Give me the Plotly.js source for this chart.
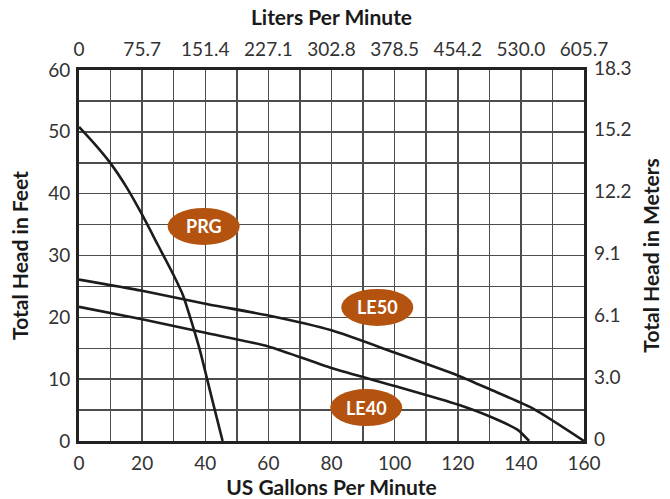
<!DOCTYPE html>
<html>
<head>
<meta charset="utf-8">
<script src="https://cdn.plot.ly/plotly-3.0.1.min.js"></script>
<style>html,body{margin:0;padding:0;background:#fff;}#chart{width:670px;height:499px;}</style>
</head>
<body>
<div id="chart"></div>
<script>
// US gallons per minute vs total head (feet)
const prgX  = [0, 5, 10, 15, 20, 25, 30, 33, 36, 38.3, 42, 45.5];
const prgY  = [50.8, 48.0, 44.9, 41.1, 36.6, 31.7, 26.8, 23.5, 18.7, 14.7, 7.1, 0];
const le50X = [0, 20, 40, 60, 80, 100, 120, 130, 144, 160];
const le50Y = [26.1, 24.3, 22.2, 20.3, 17.9, 14.3, 10.6, 8.4, 5.2, 0];
const le40X = [0, 20, 40, 60, 80, 100, 120, 130, 139, 142.6];
const le40Y = [21.7, 19.7, 17.5, 15.3, 11.8, 8.9, 5.9, 4.0, 1.8, 0];

const gpmTicks   = [0, 20, 40, 60, 80, 100, 120, 140, 160];
const literTicks = ['0', '75.7', '151.4', '227.1', '302.8', '378.5', '454.2', '530.0', '605.7'];
const feetTicks  = [0, 10, 20, 30, 40, 50, 60];
const meterTicks = ['0', '3.0', '6.1', '9.1', '12.2', '15.2', '18.3'];

const labelNames = ['PRG', 'LE50', 'LE40'];
const labelX = [39.5, 94.5, 91.0];
const labelY = [34.7, 21.6, 5.4];

const LINE = '#1c1c1c';
const BADGE = '#B4530F';
const FONT = 'Lato, "Open Sans", sans-serif';

function curve(x, y) {
  return {x: x, y: y, type: 'scatter', mode: 'lines', hoverinfo: 'skip',
          line: {color: LINE, width: 2.6, shape: 'spline', smoothing: 0.6}, showlegend: false};
}

const traces = [
  curve(prgX, prgY),
  curve(le50X, le50Y),
  curve(le40X, le40Y),
  {x: [], y: [], xaxis: 'x2', yaxis: 'y2', type: 'scatter', mode: 'lines', showlegend: false, hoverinfo: 'skip'}
];

const shapes = labelNames.map((n, i) => ({
  type: 'circle', xref: 'x', yref: 'y', xsizemode: 'pixel', ysizemode: 'pixel',
  xanchor: labelX[i], yanchor: labelY[i], x0: -36, x1: 36, y0: -18.5, y1: 18.5,
  fillcolor: BADGE, line: {width: 0}, layer: 'above'
}));

const annotations = labelNames.map((n, i) => ({
  x: labelX[i], y: labelY[i], xref: 'x', yref: 'y', text: n, showarrow: false,
  font: {family: FONT, size: 18, color: '#ffffff', weight: 'bold'}
}));

const tickFont = {family: FONT, size: 19, color: '#333333'};
const titleFont = {family: FONT, size: 21, color: '#1a1a1a', weight: 'bold'};
const gridCommon = {showgrid: true, gridcolor: '#4d4d4d', gridwidth: 1.5};

const layout = {
  width: 670, height: 499,
  margin: {l: 79, r: 86, t: 70, b: 58, pad: 0},
  paper_bgcolor: '#ffffff', plot_bgcolor: '#ffffff',
  showlegend: false,
  xaxis: Object.assign({
    range: [0, 160], tickvals: gpmTicks, ticks: '', zeroline: false,
    showline: true, mirror: true, linecolor: '#222222', linewidth: 3,
    minor: {dtick: 10, showgrid: true, gridcolor: '#4d4d4d', gridwidth: 1.5},
    tickfont: tickFont, ticklabelstandoff: 3,
    title: {text: 'US Gallons Per Minute', font: titleFont, standoff: 14}
  }, gridCommon),
  yaxis: Object.assign({
    range: [0, 60], tickvals: feetTicks, ticks: '', zeroline: false,
    showline: true, mirror: true, linecolor: '#222222', linewidth: 3,
    minor: {dtick: 5, showgrid: true, gridcolor: '#4d4d4d', gridwidth: 1.5},
    tickfont: tickFont, ticklabelstandoff: 2,
    title: {text: 'Total Head in Feet', font: titleFont, standoff: 14}
  }, gridCommon),
  xaxis2: {
    overlaying: 'x', side: 'top', anchor: 'y', range: [0, 160],
    tickvals: gpmTicks, ticktext: literTicks, ticks: '', showgrid: false, zeroline: false,
    tickfont: tickFont, ticklabelstandoff: 9,
    title: {text: 'Liters Per Minute', font: titleFont, standoff: 5}
  },
  yaxis2: {
    overlaying: 'y', side: 'right', anchor: 'x', range: [0, 60],
    tickvals: feetTicks, ticktext: meterTicks, ticks: '', showgrid: false, zeroline: false,
    tickfont: tickFont, ticklabelstandoff: 9, ticklabelshift: -2,
    title: {text: 'Total Head in Meters', font: titleFont, standoff: 13}
  },
  shapes: shapes,
  annotations: annotations
};

Plotly.newPlot('chart', traces, layout, {staticPlot: true, displayModeBar: false});
</script>
</body>
</html>
